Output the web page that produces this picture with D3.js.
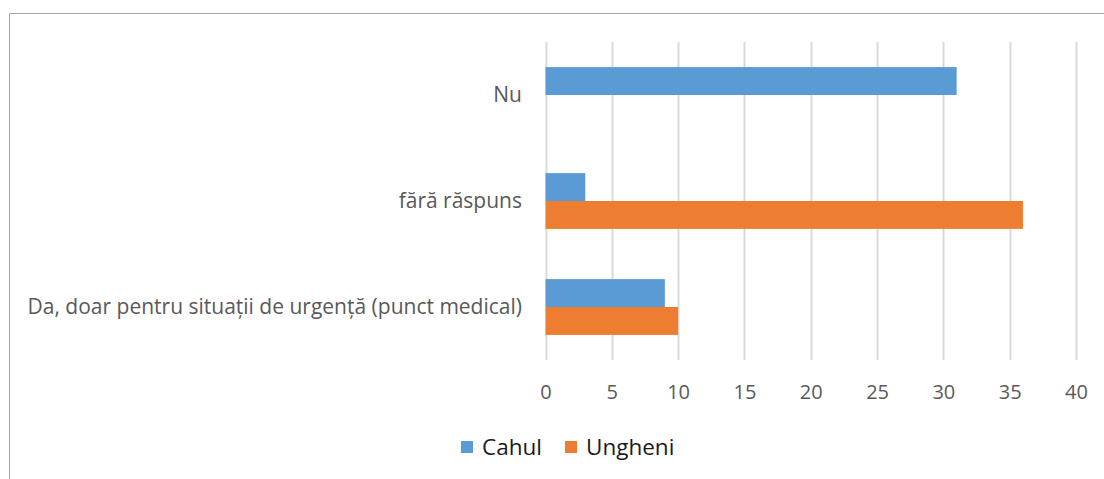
<!DOCTYPE html>
<html>
<head>
<meta charset="utf-8">
<script src="https://cdn.jsdelivr.net/npm/d3@7"></script>
<style>
  body { margin: 0; background: #fff; }
  svg { display: block; font-family: "Open Sans", Lato, sans-serif; }
</style>
</head>
<body>
<div id="chart"></div>
<script>
// categories, top to bottom
var categories = ["Nu", "fără răspuns", "Da, doar pentru situații de urgență (punct medical)"];
var seriesNames = ["Cahul", "Ungheni"];
var cahul = [31, 3, 9];
var ungheni = [0, 36, 10];
var xTicks = [0, 5, 10, 15, 20, 25, 30, 35, 40];
var colors = ["#5B9BD5", "#ED7D31"];

var W = 1104, H = 479;
var plot = {left: 545.5, right: 1076, top: 42, bottom: 360};

var svg = d3.select("#chart").append("svg")
    .attr("width", W)
    .attr("height", H);

// chart frame (only top and left edges visible)
svg.append("path")
    .attr("d", "M9.5," + H + "V13.5H" + W)
    .attr("fill", "none")
    .attr("stroke", "#A6A6A6")
    .attr("stroke-width", 1);

var x = d3.scaleLinear().domain([0, 40]).range([plot.left, plot.right]);
var y = d3.scaleBand().domain(categories).range([plot.top, plot.bottom]);
var inner = d3.scaleBand().domain(seriesNames)
    .range([0, y.bandwidth()]).paddingOuter(0.9);

// gridlines
svg.append("g").selectAll("line")
    .data(xTicks)
    .enter().append("line")
    .attr("x1", function(d) { return Math.round(x(d)) + 0.5; })
    .attr("x2", function(d) { return Math.round(x(d)) + 0.5; })
    .attr("y1", plot.top)
    .attr("y2", plot.bottom)
    .attr("stroke", "#D9D9D9")
    .attr("stroke-width", 2);

// bars
var rows = categories.map(function(c, i) {
  return {cat: c, values: [cahul[i], ungheni[i]]};
});
rows.forEach(function(r) {
  seriesNames.forEach(function(s, j) {
    if (!r.values[j]) return;
    svg.append("rect")
        .attr("x", x(0))
        .attr("y", y(r.cat) + inner(s))
        .attr("width", x(r.values[j]) - x(0))
        .attr("height", inner.bandwidth())
        .attr("fill", colors[j]);
  });
});

// category labels
svg.append("g").selectAll("text")
    .data(categories)
    .enter().append("text")
    .attr("x", 522)
    .attr("y", function(d) { return y(d) + y.bandwidth() / 2; })
    .attr("dy", "0.35em")
    .attr("text-anchor", "end")
    .attr("fill", "#595959")
    .style("font-size", "21px")
    .text(function(d) { return d; });

// x axis labels
var xAxis = d3.axisBottom(x).tickValues(xTicks).tickSize(0).tickPadding(0);
var gx = svg.append("g")
    .attr("transform", "translate(0,392)")
    .call(xAxis);
gx.select(".domain").remove();
gx.selectAll("text")
    .attr("dy", "0.35em")
    .attr("fill", "#595959")
    .style("font-size", "20px")
    .style("font-family", "'Open Sans', Lato, sans-serif");

// legend
var legend = svg.append("g");
var legendX = [461, 565];
seriesNames.forEach(function(s, j) {
  legend.append("rect")
      .attr("x", legendX[j])
      .attr("y", 441)
      .attr("width", 12)
      .attr("height", 12)
      .attr("fill", colors[j]);
  legend.append("text")
      .attr("x", legendX[j] + 21)
      .attr("y", 447)
      .attr("dy", "0.35em")
      .attr("fill", "#1a1a1a")
      .style("font-size", "22.5px")
      .text(s);
});
</script>
</body>
</html>
